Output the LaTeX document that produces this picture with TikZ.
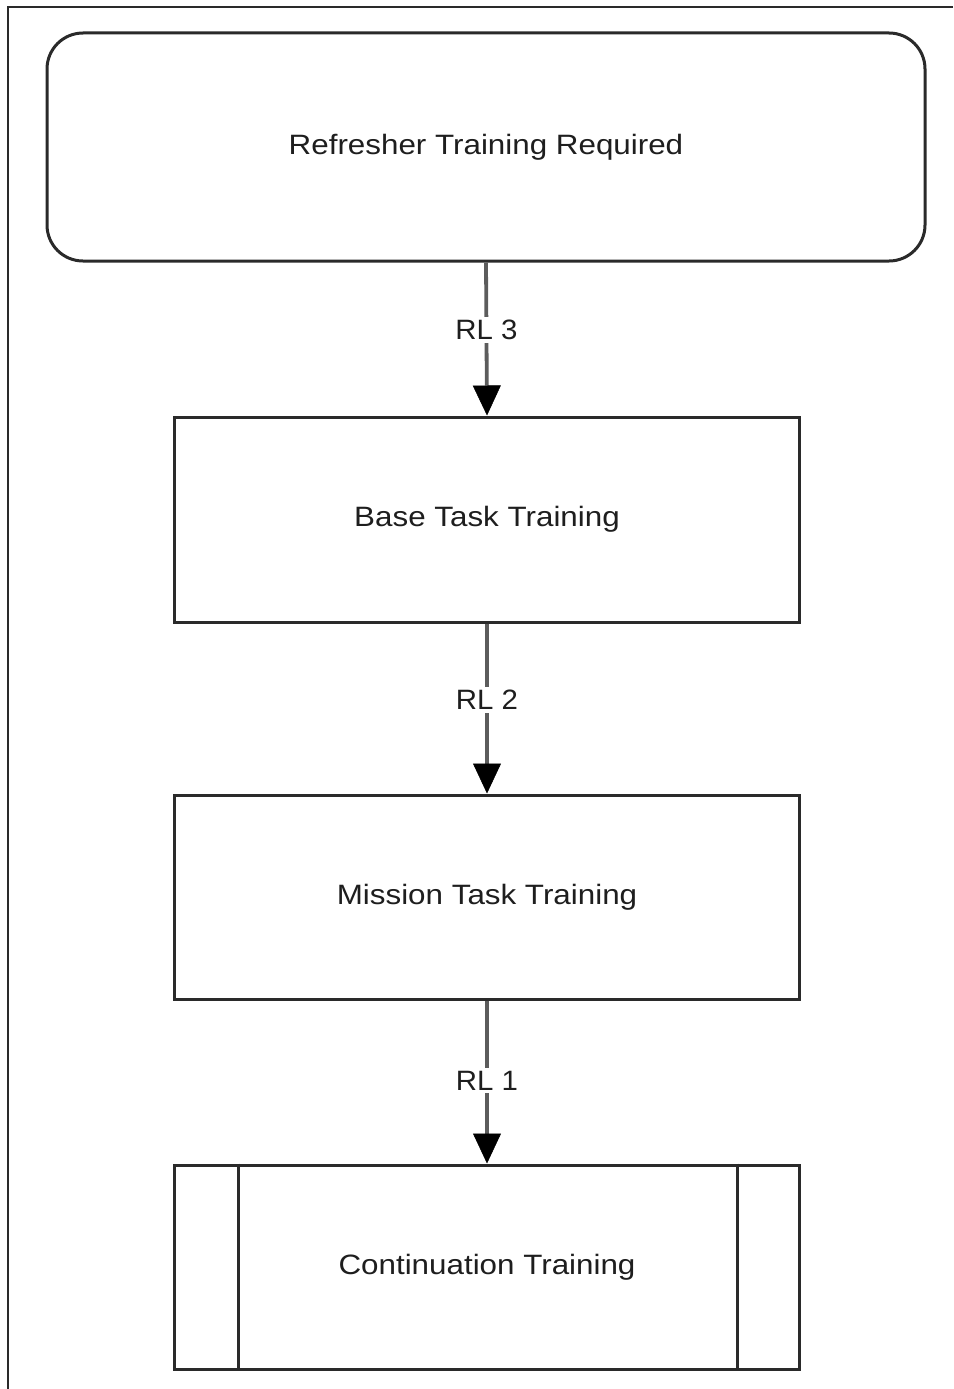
\documentclass[tikz,border=0pt]{standalone}
\usepackage{fontspec}
\setmainfont{Liberation Sans}
\usepackage{graphicx}
\usetikzlibrary{arrows.meta}
\definecolor{boxline}{HTML}{2A2A2A}
\definecolor{arrline}{HTML}{5C5C5C}
\definecolor{txt}{HTML}{1E1E1E}
\begin{document}
\begin{tikzpicture}[x=1pt,y=-1pt,
  boxstyle/.style={draw=boxline,line width=3pt,fill=white,inner sep=0pt,
    minimum width=625pt,minimum height=205pt,text=txt,
    font=\fontsize{28}{32}\selectfont},
  flowarrow/.style={draw=arrline,line width=3.8pt,
    -{Triangle[width=28pt,length=30pt,black,line width=0.5pt]}},
  rllabel/.style={fill=white,text=txt,inner sep=3pt,
    font=\fontsize{28}{32}\selectfont}]
\useasboundingbox (0,0) rectangle (953,1389);
\draw[boxline,line width=2.6pt] (953,7) -- (8,7) -- (8,1389);

\node[boxstyle,rounded corners=36pt,minimum width=878pt,minimum height=228pt]
  (top) at (486,147) {\scalebox{1.12}[1]{Refresher Training Required}};
\node[boxstyle] (base) at (487,519.5) {\scalebox{1.12}[1]{Base Task Training}};
\node[boxstyle,minimum height=204pt] (mission) at (487,897) {\scalebox{1.12}[1]{Mission Task Training}};
\node[boxstyle,minimum height=204pt] (cont) at (487,1267) {\scalebox{1.12}[1]{Continuation Training}};
\draw[boxline,line width=3pt] ([xshift=65pt]cont.north west) -- ([xshift=65pt]cont.south west);
\draw[boxline,line width=3pt] ([xshift=-64pt]cont.north east) -- ([xshift=-64pt]cont.south east);

\draw[flowarrow] (top.south) -- node[rllabel,pos=0.44] (l3) {\scalebox{1.05}[1]{RL 3}} (base.north);
\draw[flowarrow] (base.south) -- node[rllabel,pos=0.45] (l2) {\scalebox{1.05}[1]{RL 2}} (mission.north);
\draw[flowarrow] (mission.south) -- node[rllabel,pos=0.49] (l1) {\scalebox{1.05}[1]{RL 1}} (cont.north);
\end{tikzpicture}
\end{document}
